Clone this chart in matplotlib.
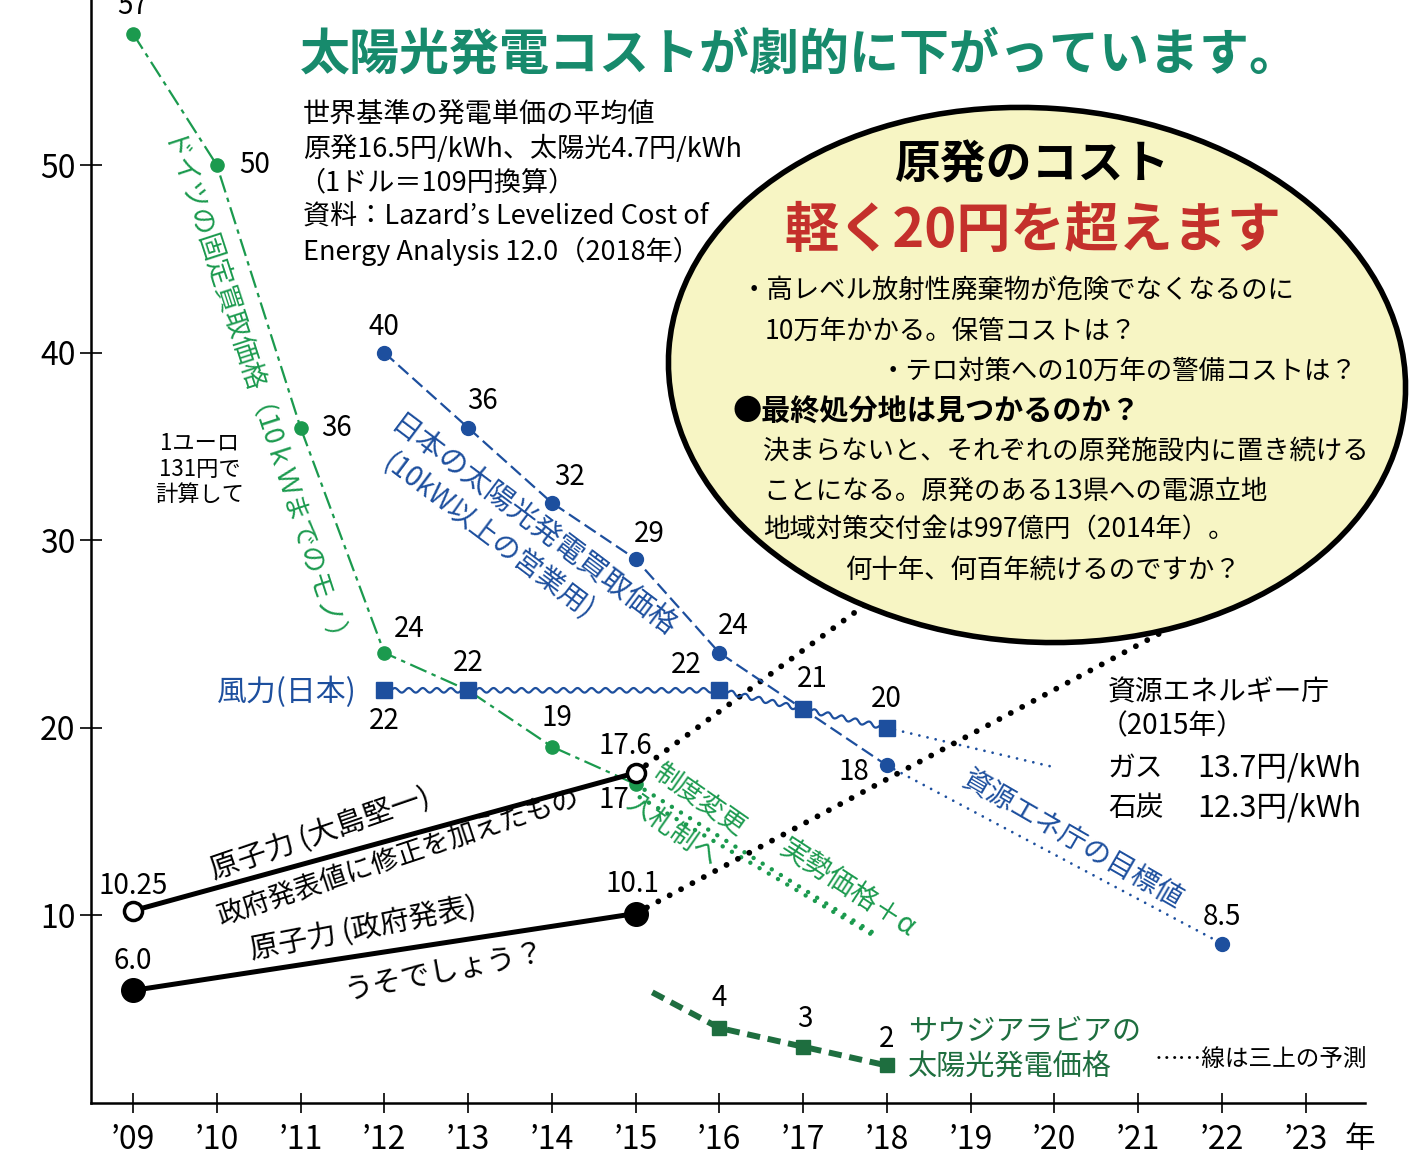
import matplotlib
matplotlib.use("Agg")
import matplotlib.pyplot as plt
from matplotlib.patches import Ellipse
from matplotlib.transforms import Affine2D, IdentityTransform

plt.rcParams['font.family'] = ['Noto Sans CJK JP', 'DejaVu Sans']

W, H = 1414, 1168

# ---- データ ----
years = list(range(2009, 2024))
year_labels = ["’%02d" % (y % 100) for y in years]
y_ticks = [10, 20, 30, 40, 50]

# ドイツの固定買取価格
de_x = [2009, 2010, 2011, 2012, 2013, 2014, 2015]
de_y = [57, 50, 36, 24, 22, 19, 17]
de_fc_x = [2015, 2017.9]          # 実勢価格+α (予測)
de_fc_y = [17, 8.9]
de_fc2_x = [2015.05, 2017.85]
de_fc2_y = [16.3, 8.9]

# 日本の太陽光発電買取価格
jp_x = [2012, 2013, 2014, 2015, 2016, 2017, 2018]
jp_y = [40, 36, 32, 29, 24, 21, 18]
jp_fc_x = [2018, 2022]            # 資源エネ庁の目標値
jp_fc_y = [18, 8.5]

# 風力(日本)
wind_x = [2012, 2013, 2016, 2017, 2018]
wind_y = [22, 22, 22, 21, 20]
wind_fc_x = [2018, 2020]
wind_fc_y = [20, 17.9]

# 原子力
gov_x = [2009, 2015]
gov_y = [6.0, 10.1]
gov_fc_x = [2015, 2022]
gov_fc_y = [10.1, 26.8]
osh_x = [2009, 2015]
osh_y = [10.25, 17.6]
osh_fc_x = [2015, 2018]
osh_fc_y = [17.6, 27.4]

# サウジアラビア
sa_x = [2015.2, 2016, 2017, 2018]
sa_y = [5.9, 4, 3, 2]

GREEN = '#1b9a4e'
BLUE = '#1d4f9e'
DKGREEN = '#1e6e3f'
TEAL = '#178a6c'
RED = '#c4302b'

fig = plt.figure(figsize=(W / 100, H / 100), dpi=100)
ax = fig.add_axes([91 / W, 65 / H, 1274 / W, 1103 / H])
ax.set_xlim(2008.498, 2023.71)
ax.set_ylim(0, 58.8)

for s in ['top', 'right']:
    ax.spines[s].set_visible(False)
for s in ['left', 'bottom']:
    ax.spines[s].set_linewidth(1.8)

ax.set_xticks(years)
ax.set_xticklabels(year_labels)
ax.set_yticks(y_ticks)
ax.tick_params(axis='x', direction='inout', length=14, width=1.2, pad=8, labelsize=23)
ax.tick_params(axis='y', direction='inout', length=16, width=1.2, pad=3, labelsize=23)

# ドイツ
ax.plot(de_x, de_y, color=GREEN, lw=1.6, ls=(0, (8, 2.5, 2, 2.5)), marker='o', ms=9.5, zorder=3)
ax.plot(de_fc_x, de_fc_y, color=GREEN, lw=3.2, ls=(0, (0.01, 2.4)), dash_capstyle='round', zorder=2)
ax.plot(de_fc2_x, de_fc2_y, color=GREEN, lw=3.2, ls=(0, (0.01, 2.4)), dash_capstyle='round', zorder=2)

# 日本の太陽光
ax.plot(jp_x, jp_y, color=BLUE, lw=1.6, ls=(0, (6, 2.5)), marker='o', ms=10, zorder=3)
ax.plot(jp_fc_x, jp_fc_y, color=BLUE, lw=2.0, ls=(0, (0.01, 3.0)), dash_capstyle='round', zorder=2)
ax.plot(jp_fc_x[-1:], jp_fc_y[-1:], 'o', color=BLUE, ms=10, zorder=3)

# 風力(波線)
wave = ax.plot(wind_x, wind_y, color=BLUE, lw=1.6, zorder=3)[0]
wave.set_sketch_params(scale=2.3, length=14, randomness=1)
ax.plot(wind_x, wind_y, 's', color=BLUE, ms=12, zorder=4)
ax.plot(wind_fc_x, wind_fc_y, color=BLUE, lw=2.0, ls=(0, (0.01, 3.0)), dash_capstyle='round', zorder=2)

# 原子力
ax.plot(osh_fc_x, osh_fc_y, color='black', lw=4.2, ls=(0, (0.01, 2.2)), dash_capstyle='round', zorder=2)
ax.plot(gov_fc_x, gov_fc_y, color='black', lw=4.2, ls=(0, (0.01, 2.2)), dash_capstyle='round', zorder=2)
ax.plot(osh_x, osh_y, color='black', lw=3.6, marker='o', ms=13, mfc='white', mec='black', mew=2.5, zorder=4)
ax.plot(gov_x, gov_y, color='black', lw=3.6, marker='o', ms=17, zorder=4)

# サウジアラビア
ax.plot(sa_x, sa_y, color=DKGREEN, lw=4.3, ls=(0, (2.2, 1.3)), marker='s', ms=10,
        markevery=[1, 2, 3], zorder=3)

# 数値ラベル (x, y, 文字, dx, dy) ずらしはピクセル
labels = [
    (2009, 57, '57', 0, 28), (2010, 50, '50', 38, 0), (2011, 36, '36', 36, 0),
    (2012, 24, '24', 25, 24), (2014, 19, '19', 5, 29), (2015, 17, '17', -22, -16),
    (2012, 22, '22', 0, -31), (2013, 22, '22', 0, 27), (2016, 22, '22', -33, 25),
    (2017, 21, '21', 9, 30), (2018, 20, '20', 0, 29),
    (2012, 40, '40', 0, 26), (2013, 36, '36', 14, 27), (2014, 32, '32', 18, 26),
    (2015, 29, '29', 14, 25), (2016, 24, '24', 14, 27), (2018, 18, '18', -33, -7),
    (2009, 10.25, '10.25', 0, 25), (2015, 17.6, '17.6', -10, 27),
    (2009, 6.0, '6.0', 0, 29), (2015, 10.1, '10.1', -3, 30),
    (2016, 4, '4', 0, 30), (2017, 3, '3', 2, 28), (2018, 2, '2', 0, 26),
    (2022, 8.5, '8.5', 0, 27),
]
for x, y, t, dx, dy in labels:
    ax.annotate(t, (x, y), xytext=(dx, dy), textcoords='offset pixels',
                ha='center', va='center', fontsize=20, zorder=6,
                annotation_clip=False)

ax.annotate('年', (1, 0), xycoords='axes fraction', xytext=(-5, -37),
            textcoords='offset pixels', ha='center', va='center', fontsize=22,
            annotation_clip=False)

# 画像ピクセル座標 (y は下向き)
px = Affine2D().scale(1, -1).translate(0, H)


def put(x, y, s, **kw):
    kw.setdefault('va', 'center')
    kw.setdefault('ha', 'left')
    fig.text(x, y, s, transform=px, **kw)


# 吹き出し(楕円)
ell = Ellipse((1037, H - 375), 738, 534, angle=-4, transform=IdentityTransform(),
              facecolor='#f7f5c4', edgecolor='black', lw=4, zorder=1.5)
fig.add_artist(ell)

put(300, 55, '太陽光発電コストが劇的に下がっています。', fontsize=36, fontweight='bold', color=TEAL)

info = ['世界基準の発電単価の平均値',
        '原発16.5円/kWh、太陽光4.7円/kWh',
        '（1ドル＝109円換算）',
        '資料：Lazard’s Levelized Cost of',
        'Energy Analysis 12.0（2018年）']
for i, s in enumerate(info):
    put(303 if i != 2 else 298, 115 + 34 * i, s, fontsize=19.5)

put(1032, 165, '原発のコスト', ha='center', fontsize=33, fontweight='bold', zorder=3)
put(1033, 232, '軽く20円を超えます', ha='center', fontsize=39, fontweight='bold', color=RED, zorder=3)
put(741, 291, '・高レベル放射性廃棄物が危険でなくなるのに', fontsize=19, zorder=3)
put(765, 331, '10万年かかる。保管コストは？', fontsize=19, zorder=3)
put(880, 371, '・テロ対策への10万年の警備コストは？', fontsize=19, zorder=3)
put(733, 412, '●最終処分地は見つかるのか？', fontsize=21, fontweight='bold', zorder=3)
put(763, 451, '決まらないと、それぞれの原発施設内に置き続ける', fontsize=19, zorder=3)
put(763, 491, 'ことになる。原発のある13県への電源立地', fontsize=19, zorder=3)
put(763, 530, '地域対策交付金は997億円（2014年）。', fontsize=19, zorder=3)
put(845, 570, '何十年、何百年続けるのですか？', fontsize=19, zorder=3)

put(1108, 692, '資源エネルギー庁', fontsize=20)
put(1100, 726, '（2015年）', fontsize=20)
put(1108, 768, 'ガス', fontsize=20)
put(1197, 768, '13.7円/kWh', fontsize=22)
put(1108, 808, '石炭', fontsize=20)
put(1197, 808, '12.3円/kWh', fontsize=22)

put(1155, 1060, '……線は三上の予測', fontsize=17)

put(908, 1032, 'サウジアラビアの', fontsize=21, color=DKGREEN)
put(908, 1068, '太陽光発電価格', fontsize=21, color=DKGREEN)

put(357, 692, '風力(日本)', ha='right', fontsize=21.5, color=BLUE)
put(200, 469, '1ユーロ\n131円で\n計算して', ha='center', fontsize=16, linespacing=1.15)

# 線に沿った斜めの文字
rot = dict(ha='center', rotation_mode='anchor')
put(252, 398, 'ドイツの固定買取価格（10ｋＷまでのモノ）', rotation=-72, fontsize=19.5, color=GREEN, **rot)
put(533, 528, '日本の太陽光発電買取価格', rotation=-37, fontsize=21, color=BLUE, **rot)
put(488, 537, '(10kW以上の営業用)', rotation=-37, fontsize=20, color=BLUE, **rot)
put(320, 835, '原子力 (大島堅一)', rotation=19, fontsize=21, **rot)
put(398, 857, '政府発表値に修正を加えたもの', rotation=18.5, fontsize=19.5, **rot)
put(363, 930, '原子力 (政府発表)', rotation=11, fontsize=21, **rot)
put(444, 972, 'うそでしょう？', rotation=11, fontsize=21, **rot)
put(700, 800, '制度変更', rotation=-35, fontsize=19, color=GREEN, **rot)
put(672, 830, '入札制へ', rotation=-35, fontsize=19, color=GREEN, **rot)
put(848, 888, '実勢価格＋α', rotation=-33, fontsize=20, color=GREEN, **rot)
put(1072, 840, '資源エネ庁の目標値', rotation=-30, fontsize=20, color=BLUE, **rot)

fig.savefig('out.png', dpi=100)
